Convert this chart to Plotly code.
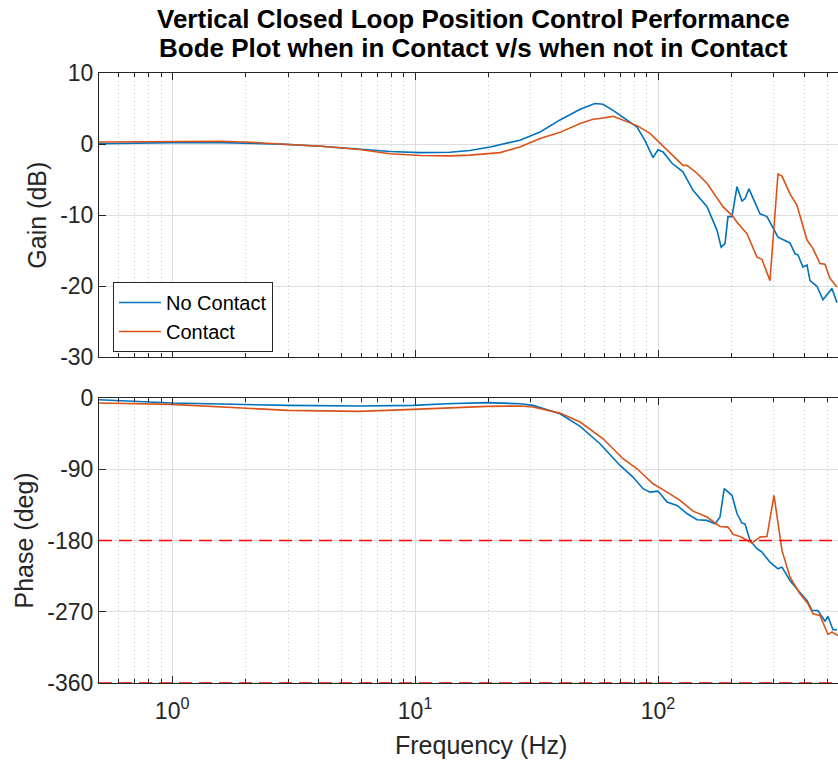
import numpy as np
import plotly.graph_objects as go

# ---------------- data ----------------
freq_gain_nc = [0.5, 0.7, 1.0, 1.6, 2.1, 2.8, 4.1, 5.9, 7.9, 10.5, 13.9, 16.8, 20.4, 27.0, 32.7,
                39.5, 47.8, 55.0, 59.4, 65.3, 74.6, 82.0, 88.4, 95.4, 100.0, 104.9, 114.2, 126.7,
                139.3, 159.1, 174.9, 181.9, 188.7, 194.1, 201.6, 211.4, 221.6, 228.0, 236.8,
                262.9, 280.9, 311.8, 349.4, 366.3, 377.0, 395.2, 410.5, 422.3, 451.0, 477.6,
                500.8, 520.0, 545.5]
gain_nc = [0.05, 0.15, 0.2, 0.2, 0.1, 0.0, -0.3, -0.7, -1.05, -1.2, -1.15, -0.9, -0.4, 0.55, 1.7,
           3.4, 4.9, 5.7, 5.6, 4.75, 3.4, 2.4, 0.5, -1.9, -0.8, -1.1, -2.7, -3.9,
           -6.5, -8.8, -12.1, -14.5, -14.0, -10.2, -10.2, -6.0, -8.0, -7.7, -6.3,
           -9.8, -10.2, -13.1, -13.9, -15.4, -15.6, -17.3, -17.0, -19.2, -20.0, -21.9,
           -21.0, -20.3, -22.3]

freq_gain_c = [0.5, 0.7, 1.0, 1.6, 2.1, 2.8, 4.1, 5.9, 7.9, 10.5, 13.9, 16.8, 20.4, 22.4, 27.0,
               32.7, 39.5, 47.8, 54.0, 57.7, 65.3, 74.6, 82.0, 92.7, 102.0, 115.3, 126.7, 131.6,
               144.7, 159.1, 185.1, 203.8, 211.4, 232.4, 255.5, 267.9, 289.0, 311.8, 323.8,
               349.4, 373.3, 410.5, 434.5, 464.2, 486.7, 510.4, 545.5]
gain_c = [0.3, 0.35, 0.4, 0.4, 0.25, 0.05, -0.3, -0.75, -1.35, -1.6, -1.65, -1.55, -1.25, -1.2, -0.4,
          0.8, 1.65, 2.9, 3.5, 3.6, 3.9, 3.1, 2.6, 1.5, 0.15, -1.6, -3.0, -3.0,
          -4.1, -5.5, -8.8, -10.2, -11.0, -12.6, -15.9, -16.2, -19.2, -4.2, -4.5,
          -7.0, -8.6, -13.5, -14.7, -16.8, -16.9, -18.9, -20.1]

freq_phase_nc = [0.5, 1.0, 3.0, 5.9, 9.8, 13.5, 19.8, 27.0, 30.6, 39.5, 47.8, 57.7, 69.8, 78.9,
                 86.8, 92.7, 100.0, 108.9, 119.7, 131.6, 144.7, 159.1, 171.6, 179.9, 187.3,
                 201.6, 211.4, 221.6, 228.0, 239.1, 255.5, 267.9, 289.0, 311.8, 323.8, 349.4,
                 377.0, 410.5, 430.4, 455.4, 486.7, 500.8, 525.0, 545.5]
phase_nc = [-2.3, -6.5, -9.5, -10.3, -9.5, -7.4, -6.0, -7.4, -9.5, -20.0, -36.0, -57.9, -85.3, -100.0,
            -114.7, -119.0, -117.7, -131.6, -135.8, -146.0, -153.9, -154.7, -159.0, -150.6, -114.7,
            -123.0, -146.0, -158.0, -159.0, -180.0, -190.5, -194.7, -207.4, -215.8, -213.7, -230.5,
            -243.0, -255.8, -268.4, -268.4, -281.9, -276.0, -292.8, -292.8]

freq_phase_c = [0.5, 1.0, 3.0, 5.9, 9.8, 13.5, 19.8, 27.0, 30.6, 39.5, 47.8, 59.4, 71.8, 82.0,
                95.4, 108.9, 123.2, 139.3, 159.1, 179.9, 194.1, 203.8, 217.5, 243.6, 262.9,
                280.9, 300.2, 323.8, 349.4, 384.1, 414.5, 434.5, 464.2, 500.8, 520.0, 550.7]
phase_c = [-6.5, -8.2, -15.8, -17.0, -14.5, -12.4, -10.7, -10.3, -11.6, -19.2, -30.5, -51.6, -76.8, -89.5,
           -108.4, -119.0, -129.5, -143.0, -150.5, -162.3, -163.2, -172.4, -175.0, -183.3, -175.8,
           -175.0, -123.0, -192.6, -226.3, -247.3, -260.0, -272.6, -274.7, -298.7, -295.8, -300.0]

series_names = ["No Contact", "Contact"]
phase_refs = [-180, -360]
title_lines = ["Vertical Closed Loop Position Control Performance",
               "Bode Plot when in Contact v/s when not in Contact"]

x_major = [1, 10, 100]
x_major_text = ["10<sup>0</sup>", "10<sup>1</sup>", "10<sup>2</sup>"]
x_minor = [m * d for d in [0.1, 1, 10, 100] for m in range(2, 10)]
gain_ticks = [-30, -20, -10, 0, 10]
gain_tick_text = ["-30", "-20", "-10", "0", "10"]
phase_ticks = [-360, -270, -180, -90, 0]
phase_tick_text = ["-360", "-270", "-180", "-90", "0"]
x_limits = [0.5, 550.7]

# ---------------- style ----------------
BLUE = "#0072BD"
ORANGE = "#D95319"
AX = "#262626"
GRID = "#dedede"
MINOR_GRID = "#c8c8c8"
FONT = "Liberation Sans, Arial, sans-serif"

fig = go.Figure()
fig.add_trace(go.Scatter(x=freq_gain_nc, y=gain_nc, mode="lines", name=series_names[0],
                         line=dict(color=BLUE, width=1.6), xaxis="x", yaxis="y"))
fig.add_trace(go.Scatter(x=freq_gain_c, y=gain_c, mode="lines", name=series_names[1],
                         line=dict(color=ORANGE, width=1.6), xaxis="x", yaxis="y"))
fig.add_trace(go.Scatter(x=freq_phase_nc, y=phase_nc, mode="lines", showlegend=False,
                         line=dict(color=BLUE, width=1.6), xaxis="x2", yaxis="y2"))
fig.add_trace(go.Scatter(x=freq_phase_c, y=phase_c, mode="lines", showlegend=False,
                         line=dict(color=ORANGE, width=1.6), xaxis="x2", yaxis="y2"))

for r in phase_refs:
    fig.add_shape(type="line", xref="x2 domain", yref="y2", x0=0, x1=1, y0=r, y1=r,
                  line=dict(color="#FF0000", width=1.5, dash="13px,7px"), layer="above")

xcommon = dict(
    type="log",
    range=[np.log10(x_limits[0]), np.log10(x_limits[1])],
    tickmode="array", tickvals=x_major,
    ticks="inside", ticklen=7, tickcolor=AX, tickwidth=1,
    showline=True, linecolor=AX, linewidth=1, mirror="allticks",
    showgrid=True, gridcolor=GRID, gridwidth=1, zeroline=False,
    minor=dict(tickmode="array", tickvals=x_minor, ticks="inside", ticklen=4,
               tickcolor=AX, showgrid=True, gridcolor=MINOR_GRID, griddash="1px,3px", gridwidth=1),
    tickfont=dict(family=FONT, size=23, color=AX),
)

ycommon = dict(
    ticks="inside", ticklen=7, tickcolor=AX, tickwidth=1,
    showline=True, linecolor=AX, linewidth=1, mirror=False,
    showgrid=True, gridcolor=GRID, gridwidth=1, zeroline=False,
    tickfont=dict(family=FONT, size=23, color=AX),
    title_font=dict(family=FONT, size=25, color=AX),
    tickmode="array",
)

title_anns = []
for txt, ypx in zip(title_lines, [19.5, 48.0]):
    title_anns.append(dict(text=txt, xref="paper", yref="paper",
                           x=(473 - 99) / 739, y=(683 - ypx) / 610,
                           xanchor="center", yanchor="middle", showarrow=False,
                           font=dict(family=FONT, size=26, color="#000000", weight="bold")))

fig.update_layout(
    width=838, height=761,
    margin=dict(l=99, r=0, t=73, b=78),
    paper_bgcolor="white", plot_bgcolor="white",
    font=dict(family=FONT, color=AX),
    xaxis=dict(xcommon, anchor="y", domain=[0, 1], showticklabels=False),
    xaxis2=dict(xcommon, anchor="y2", domain=[0, 1], ticktext=x_major_text, showticklabels=True,
                ticklabelstandoff=7),
    yaxis=dict(ycommon, anchor="x", domain=[0.5338, 1], range=[-30, 10], tickvals=gain_ticks,
               ticktext=gain_tick_text, title=dict(text="Gain (dB)", standoff=6)),
    yaxis2=dict(ycommon, anchor="x2", domain=[0, 0.4674], range=[-360, 0], tickvals=phase_ticks,
                ticktext=phase_tick_text, title=dict(text="Phase (deg)", standoff=6)),
    legend=dict(x=(113 - 99) / 739, y=(683 - 282) / 610, xanchor="left", yanchor="top",
                bgcolor="white", bordercolor=AX, borderwidth=1, tracegroupgap=0,
                font=dict(family=FONT, size=20, color="#000000"), itemwidth=42),
    annotations=title_anns + [dict(text="Frequency (Hz)", xref="paper", yref="paper",
                      x=(481 - 99) / 739, y=(683 - 745) / 610, xanchor="center", yanchor="middle",
                      showarrow=False, font=dict(family=FONT, size=25, color=AX))],
)

fig.write_html("out.html")
